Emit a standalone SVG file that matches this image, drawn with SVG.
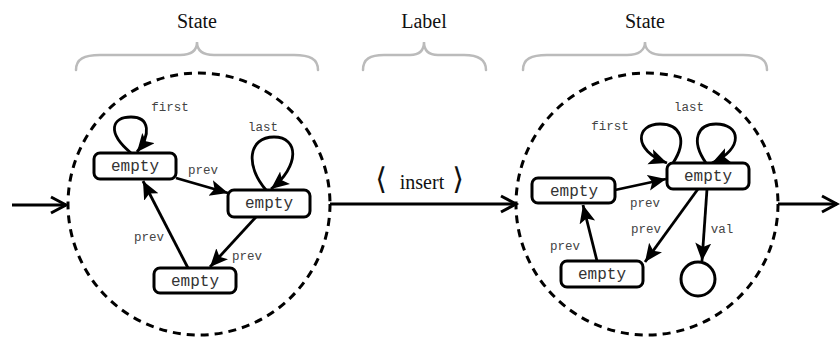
<svg xmlns="http://www.w3.org/2000/svg" width="840" height="338" viewBox="0 0 840 338">
<style>
.title{font-family:"Liberation Serif","DejaVu Serif",serif;font-size:20px;fill:#111;text-anchor:middle}
.br{font-family:"DejaVu Serif",serif;font-size:30px;fill:#111;text-anchor:middle;font-weight:200}
.brace{fill:none;stroke:#bbb;stroke-width:2.5;stroke-linecap:round}
.state{fill:none;stroke:#000;stroke-width:3;stroke-dasharray:8 6}
.node rect{fill:#fff;stroke:#000;stroke-width:3}
.node text{font-family:"Liberation Mono","DejaVu Sans Mono",monospace;font-size:16px;fill:#333;text-anchor:middle}
.edge{fill:none;stroke:#000;stroke-width:2.8}
.lbl{font-family:"Liberation Mono","DejaVu Sans Mono",monospace;font-size:12.5px;fill:#444;text-anchor:middle}
.open{fill:none;stroke:#000;stroke-width:3}
</style>
<defs>
<marker id="ah" markerUnits="userSpaceOnUse" markerWidth="22" markerHeight="18" refX="18" refY="8" orient="auto">
<path d="M0,0 L18,8 L0,16 L4,8 z" fill="#000"/>
</marker>
</defs>
<rect width="840" height="338" fill="#fff"/>
<g id="titles">
<text class="title" x="197" y="28">State</text>
<text class="title" x="424" y="28">Label</text>
<text class="title" x="645" y="28">State</text>
<path class="brace" d="M76,70 C76,59 84,55 100,55 L180,55 C192,55 197,50 197,42 C197,50 202,55 214,55 L294,55 C310,55 318,59 318,70"/>
<path class="brace" d="M363,70 C363,59 370,55 384,55 L410,55 C420,55 424,50 424,42 C424,50 428,55 438,55 L464,55 C478,55 486,59 486,70"/>
<path class="brace" d="M523,70 C523,59 531,55 547,55 L627,55 C639,55 645,50 645,42 C645,50 651,55 663,55 L743,55 C759,55 767,59 767,70"/>
</g>
<g id="state1">
<circle class="state" cx="199" cy="204" r="131"/>
</g>
<g id="state2">
<circle class="state" cx="647" cy="204" r="131"/>
</g>
<g id="label-insert">
<text class="br" x="381" y="189">⟨</text>
<text class="title" x="422" y="189">insert</text>
<text class="br" x="458" y="189">⟩</text>
</g>
<g id="connectors">
<path class="edge" d="M12,205 L66,205"/>
<path class="open" d="M51,197 L66,205 L51,213"/>
<path class="edge" d="M330,204 L516,204"/>
<path class="open" d="M501,196 L516,204 L501,212"/>
<path class="edge" d="M778,204 L837,204"/>
<path class="open" d="M822,196 L837,204 L822,212"/>
<!-- left state -->
<path class="edge" marker-end="url(#ah)" d="M131,153 C106,132 112,117 131,117 C150,117 151,135 137,152"/>
<path class="edge" marker-end="url(#ah)" d="M266,190 C245,166 248,137 274,137 C299,137 300,166 271,189"/>
<path class="edge" marker-end="url(#ah)" d="M176,178 L228,193"/>
<path class="edge" marker-end="url(#ah)" d="M256,217 L210,267"/>
<path class="edge" marker-end="url(#ah)" d="M188,268 L143,181"/>
<!-- right state -->
<path class="edge" marker-end="url(#ah)" d="M673,163 C688,140 680,124 660,124 C636,124 632,150 667,163"/>
<path class="edge" marker-end="url(#ah)" d="M706,163 C690,140 698,124 716,124 C740,124 745,148 712,163"/>
<path class="edge" marker-end="url(#ah)" d="M615,190 L666,179"/>
<path class="edge" marker-end="url(#ah)" d="M698,189 L645,262"/>
<path class="edge" marker-end="url(#ah)" d="M597,261 L583,205"/>
<path class="edge" marker-end="url(#ah)" d="M707,189 L702,261"/>
</g>
<g id="labels">
<text class="lbl" x="170" y="111">first</text>
<text class="lbl" x="263" y="131">last</text>
<text class="lbl" x="203" y="174">prev</text>
<text class="lbl" x="247" y="260">prev</text>
<text class="lbl" x="149" y="241">prev</text>
<text class="lbl" x="610" y="130">first</text>
<text class="lbl" x="689" y="111">last</text>
<text class="lbl" x="645" y="207">prev</text>
<text class="lbl" x="646" y="233">prev</text>
<text class="lbl" x="565" y="250">prev</text>
<text class="lbl" x="722" y="233">val</text>
</g>
<g id="nA" class="node"><rect x="94" y="153" width="82" height="26" rx="6"/><text x="135" y="171">empty</text></g>
<g id="nB" class="node"><rect x="228" y="190" width="82" height="27" rx="6"/><text x="269" y="208">empty</text></g>
<g id="nC" class="node"><rect x="154" y="268" width="82" height="25" rx="6"/><text x="195" y="286">empty</text></g>
<g id="nD" class="node"><rect x="532" y="178" width="83" height="25" rx="6"/><text x="574" y="196">empty</text></g>
<g id="nE" class="node"><rect x="667" y="163" width="82" height="26" rx="6"/><text x="708" y="181">empty</text></g>
<g id="nF" class="node"><rect x="561" y="261" width="82" height="26" rx="6"/><text x="602" y="279">empty</text></g>
<g id="nG" class="node"><circle cx="698" cy="279" r="17" fill="#fff" stroke="#000" stroke-width="3"/></g>
</svg>
